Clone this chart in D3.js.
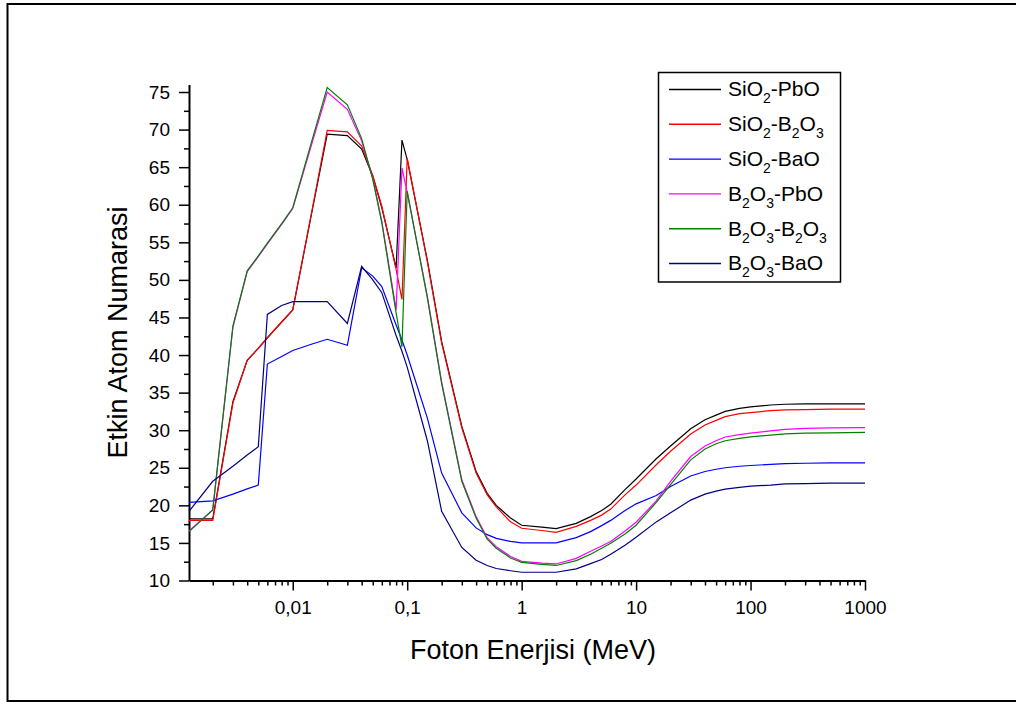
<!DOCTYPE html>
<meta charset="utf-8">
<style>
  body {
    margin: 0;
    background: #fff;
  }
  svg text {
    font-family: Arial, "Liberation Sans", sans-serif;
    fill: #000;
  }
</style>
<body>
<script src="https://d3js.org/d3.v7.min.js"></script>
<script>
  // photon energy (MeV) - first value is where the plotted data starts
  var energy = [0.00124, 0.002, 0.003, 0.004, 0.005, 0.006, 0.008, 0.01, 0.015, 0.02,
    0.03, 0.04, 0.05, 0.06, 0.08, 0.09, 0.1, 0.15, 0.2, 0.3,
    0.4, 0.5, 0.6, 0.8, 1, 1.5, 2, 3, 4, 5,
    6, 8, 10, 15, 20, 30, 40, 50, 60, 80,
    100, 150, 200, 300, 500, 1000];

  // effective atomic number for each glass system
  var sio2Pbo = [18.2, 18.2, 33.8, 39.3, 40.9, 42.3, 44.4, 46.0, 59.7, 69.4,
    69.2, 67.4, 63.8, 59.6, 51.6, 68.6, 66.0, 52.6, 41.8, 30.5,
    24.5, 21.6, 20.0, 18.3, 17.35, 17.1, 16.9, 17.6, 18.5, 19.3,
    20.15, 22.1, 23.5, 26.2, 27.9, 30.2, 31.4, 32.0, 32.5, 32.9,
    33.1, 33.35, 33.45, 33.5, 33.5, 33.5];
  var sio2B2o3 = [18.0, 18.0, 33.6, 39.3, 40.9, 42.3, 44.4, 46.0, 59.9, 69.9,
    69.7, 67.8, 63.9, 59.8, 51.4, 47.4, 66.2, 52.4, 41.6, 30.3,
    24.3, 21.4, 19.8, 17.8, 16.95, 16.65, 16.4, 17.2, 18.0, 18.7,
    19.5, 21.4, 22.7, 25.4, 27.2, 29.5, 30.7, 31.3, 31.8, 32.2,
    32.35, 32.6, 32.7, 32.75, 32.8, 32.8];
  var sio2Bao = [20.4, 20.6, 21.5, 22.2, 22.7, 38.8, 39.8, 40.6, 41.5, 42.1,
    41.3, 51.6, 50.5, 49.1, 44.0, 42.0, 40.0, 31.6, 24.3, 19.0,
    17.0, 16.1, 15.6, 15.2, 15.0, 15.0, 15.0, 15.7, 16.5, 17.3,
    18.0, 19.3, 20.2, 21.3, 22.5, 23.9, 24.5, 24.8, 25.0, 25.2,
    25.3, 25.45, 25.55, 25.6, 25.65, 25.65];
  var b2o3Pbo = [16.6, 19.4, 43.7, 51.1, 53.1, 54.8, 57.4, 59.5, 68.6, 75.0,
    72.7, 68.5, 63.5, 57.8, 46.0, 64.9, 61.6, 47.8, 36.4, 23.4,
    18.5, 15.7, 14.5, 13.2, 12.55, 12.3, 12.2, 12.95, 13.9, 14.6,
    15.2, 16.6, 17.75, 20.6, 23.2, 26.5, 27.9, 28.6, 29.1, 29.4,
    29.6, 29.9, 30.1, 30.25, 30.3, 30.35];
  var b2o3B2o3 = [16.5, 19.4, 43.9, 51.2, 53.2, 54.9, 57.5, 59.6, 69.0, 75.6,
    73.3, 68.8, 63.4, 57.6, 45.6, 41.1, 61.8, 47.6, 36.2, 23.2,
    18.3, 15.5, 14.3, 13.0, 12.4, 12.15, 12.0, 12.65, 13.5, 14.3,
    14.95, 16.2, 17.35, 20.4, 22.75, 26.05, 27.5, 28.2, 28.6, 28.9,
    29.1, 29.35, 29.5, 29.6, 29.65, 29.7];
  var b2o3Bao = [19.2, 23.2, 25.2, 26.7, 27.8, 45.4, 46.6, 47.1, 47.1, 47.1,
    44.2, 51.8, 50.0, 48.3, 42.6, 40.5, 38.4, 28.6, 19.2, 14.4,
    12.7, 12.0, 11.6, 11.3, 11.1, 11.1, 11.1, 11.55, 12.25, 12.8,
    13.5, 14.7, 15.75, 17.8, 19.0, 20.7, 21.5, 21.9, 22.15, 22.4,
    22.55, 22.7, 22.85, 22.9, 22.95, 22.95];

  var seriesNames = ["SiO2-PbO", "SiO2-B2O3", "SiO2-BaO", "B2O3-PbO", "B2O3-B2O3", "B2O3-BaO"];
  var seriesColors = ["#000000", "#ff0000", "#0000ff", "#ff00ff", "#008000", "#000080"];
  var seriesValues = [sio2Pbo, sio2B2o3, sio2Bao, b2o3Pbo, b2o3B2o3, b2o3Bao];

  var xMajor = [0.01, 0.1, 1, 10, 100, 1000];
  var xMajorLabels = ["0,01", "0,1", "1", "10", "100", "1000"];
  var yMajor = d3.range(10, 76, 5);

  var width = 1016, height = 702;
  var svg = d3.select('body').append('svg')
    .attr('width', width)
    .attr('height', height);

  // outer frame
  svg.append('rect')
    .attr('x', 7.5).attr('y', 4)
    .attr('width', 1012).attr('height', 697)
    .attr('fill', 'none')
    .attr('stroke', '#000')
    .attr('stroke-width', 2);

  var x = d3.scaleLog().domain([energy[0], 1000]).range([189, 865]);
  var y = d3.scaleLinear().domain([10, 76]).range([580.5, 84.5]);

  // minor ticks: 2..9 in each decade, and halfway between y majors
  var xMinor = [];
  for (var d = -3; d < 3; d++) {
    for (var k = 2; k <= 9; k++) {
      var v = k * Math.pow(10, d);
      if (v >= energy[0] && v <= 1000) xMinor.push(v);
    }
  }
  var yMinor = yMajor.map(function (v) { return v + 2.5; }).filter(function (v) { return v < 76; });

  var axisFont = 19;

  // x axis
  var gx = svg.append('g').attr('transform', 'translate(0,' + y.range()[0] + ')');
  gx.append('g')
    .call(d3.axisBottom(x).tickValues(xMinor).tickFormat('').tickSize(5).tickSizeOuter(0))
    .call(function (g) { g.select('.domain').remove(); });
  gx.append('g')
    .call(d3.axisBottom(x).tickValues(xMajor)
      .tickFormat(function (d, i) { return xMajorLabels[i]; })
      .tickSize(10).tickSizeOuter(0).tickPadding(10));

  // y axis
  var gy = svg.append('g').attr('transform', 'translate(' + x.range()[0] + ',0)');
  gy.append('g')
    .call(d3.axisLeft(y).tickValues(yMinor).tickFormat('').tickSize(5).tickSizeOuter(0))
    .call(function (g) { g.select('.domain').remove(); });
  gy.append('g')
    .call(d3.axisLeft(y).tickValues(yMajor).tickSize(10).tickSizeOuter(0).tickPadding(9));

  // d3 puts its own font on axis groups, so override it afterwards
  svg.selectAll('g')
    .attr('font-size', null)
    .attr('font-family', null);
  svg.selectAll('.tick text').attr('font-size', axisFont);
  svg.selectAll('.domain').attr('stroke-width', 2);
  svg.selectAll('.tick line').attr('stroke-width', 1.5);

  // axis titles
  svg.append('text')
    .attr('transform', 'translate(127,332.5) rotate(-90)')
    .attr('text-anchor', 'middle')
    .attr('font-size', 27)
    .text('Etkin Atom Numarasi');
  svg.append('text')
    .attr('x', 533).attr('y', 659)
    .attr('text-anchor', 'middle')
    .attr('font-size', 27)
    .text('Foton Enerjisi (MeV)');

  // curves
  var line = d3.line()
    .x(function (d) { return x(d[0]); })
    .y(function (d) { return y(d[1]); });

  seriesValues.forEach(function (vals, i) {
    svg.append('path')
      .datum(energy.map(function (e, j) { return [e, vals[j]]; }))
      .attr('fill', 'none')
      .attr('stroke', seriesColors[i])
      .attr('stroke-width', 1.2)
      .attr('d', line);
  });

  // legend
  var legend = svg.append('g');
  legend.append('rect')
    .attr('x', 658.5).attr('y', 72.5)
    .attr('width', 182).attr('height', 209.5)
    .attr('fill', '#fff')
    .attr('stroke', '#000')
    .attr('stroke-width', 1.5);

  seriesNames.forEach(function (name, i) {
    var ly = 89.5 + i * 34.8;
    legend.append('line')
      .attr('x1', 669).attr('x2', 721)
      .attr('y1', ly).attr('y2', ly)
      .attr('stroke', seriesColors[i])
      .attr('stroke-width', 1.4);
    var t = legend.append('text')
      .attr('x', 728).attr('y', ly + 6.8)
      .attr('font-size', 21);
    // digits in the formulas are subscripts
    var lowered = false;
    name.split(/(\d)/).forEach(function (part) {
      if (part === '') return;
      var sub = /\d/.test(part);
      var shift = sub === lowered ? 0 : (sub ? 7 : -7);
      var ts = t.append('tspan').attr('dy', shift).text(part);
      if (sub) ts.attr('font-size', 14);
      lowered = sub;
    });
  });
</script>
</body>
